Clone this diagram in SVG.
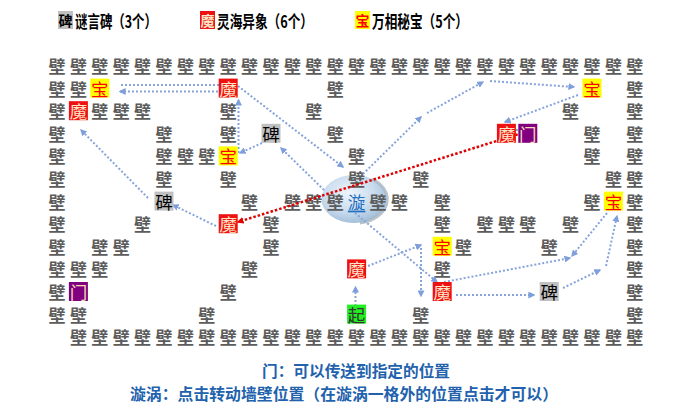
<svg xmlns="http://www.w3.org/2000/svg" width="698" height="408" viewBox="0 0 698 408">
<style>
.w text{font-family:"Noto Sans CJK SC","Noto Sans CJK JP",sans-serif;font-size:17px;font-weight:bold;fill:#5c5c5c;text-anchor:middle;dominant-baseline:central}
.t{font-family:"Noto Sans CJK SC","Noto Sans CJK JP",sans-serif;font-size:17.5px;text-anchor:middle;dominant-baseline:central}
.lt{font-family:"Noto Sans CJK SC","Noto Sans CJK JP",sans-serif;font-size:14px;font-weight:bold;text-anchor:middle;dominant-baseline:central}
.lg{font-family:"Noto Sans CJK SC","Noto Sans CJK JP",sans-serif;font-size:17px;font-weight:bold;fill:#000;dominant-baseline:central}
.bao rect{fill:#ffff00}.bao text{fill:#ff0000}
.mo rect{fill:#ee1111}.mo text{fill:#ffe6c8}
.bei rect{fill:#c0c0c0}.bei text{fill:#000}
.men rect{fill:#800080}.men text{fill:#f5dcb0}
.qi rect{fill:#22ee22}.qi text{fill:#333}
.c{fill:none;stroke:#86a4da;stroke-width:2;stroke-dasharray:2 2;marker-end:url(#ab)}
.r{fill:none;stroke:#e00000;stroke-width:2.5;stroke-dasharray:2.5 2;marker-end:url(#ar)}
.note{font-family:"Noto Sans CJK SC","Noto Sans CJK JP",sans-serif;font-size:15.5px;font-weight:bold;fill:#2262ad;text-anchor:middle;dominant-baseline:central}
</style>
<defs>
<marker id="ab" viewBox="0 0 10 10" refX="8" refY="5" markerWidth="7" markerHeight="7" markerUnits="userSpaceOnUse" orient="auto"><path d="M0,0 L10,5 L0,10 z" fill="#7f9fdc"/></marker>
<marker id="ar" viewBox="0 0 10 10" refX="8" refY="5" markerWidth="7" markerHeight="7" markerUnits="userSpaceOnUse" orient="auto"><path d="M0,0 L10,5 L0,10 z" fill="#e00000"/></marker>
<radialGradient id="sw" cx="0.42" cy="0.38" r="0.65">
<stop offset="0" stop-color="#eef5fb"/><stop offset="0.6" stop-color="#c9dcee"/><stop offset="1" stop-color="#9fbcd8"/>
</radialGradient>
</defs>
<rect width="698" height="408" fill="#fff"/>

<g id="legend">
<g class="bei"><rect x="58" y="11" width="15" height="18"/><text class="lt" x="65.5" y="20">碑</text></g>
<text class="lg" x="75" y="20" textLength="82" lengthAdjust="spacingAndGlyphs">谜言碑（3个）</text>
<g class="mo"><rect x="200" y="11" width="15" height="18"/><text class="lt" x="207.5" y="20">魔</text></g>
<text class="lg" x="217" y="20" textLength="96" lengthAdjust="spacingAndGlyphs">灵海异象（6个）</text>
<g class="bao"><rect x="355" y="11" width="15" height="18"/><text class="lt" x="362.5" y="20">宝</text></g>
<text class="lg" x="372" y="20" textLength="96" lengthAdjust="spacingAndGlyphs">万相秘宝（5个）</text>
</g>

<g id="swirl-bg">
<ellipse cx="354" cy="199" rx="32.5" ry="24" fill="url(#sw)"/>
<path d="M372,179 A32.5,24 0 0 1 360,223" fill="none" stroke="#a8b4bf" stroke-width="3" opacity="0.8"/>
</g>

<g id="walls" class="w">
<text x="57" y="65.5">壁</text><text x="78.4" y="65.5">壁</text><text x="99.8" y="65.5">壁</text><text x="121.2" y="65.5">壁</text><text x="142.6" y="65.5">壁</text><text x="164" y="65.5">壁</text><text x="185.4" y="65.5">壁</text><text x="206.8" y="65.5">壁</text><text x="228.2" y="65.5">壁</text><text x="249.6" y="65.5">壁</text><text x="271" y="65.5">壁</text><text x="292.4" y="65.5">壁</text><text x="313.8" y="65.5">壁</text><text x="335.2" y="65.5">壁</text><text x="356.6" y="65.5">壁</text><text x="378" y="65.5">壁</text><text x="399.4" y="65.5">壁</text><text x="420.8" y="65.5">壁</text><text x="442.2" y="65.5">壁</text><text x="463.6" y="65.5">壁</text><text x="485" y="65.5">壁</text><text x="506.4" y="65.5">壁</text><text x="527.8" y="65.5">壁</text><text x="549.2" y="65.5">壁</text><text x="570.6" y="65.5">壁</text><text x="592" y="65.5">壁</text><text x="613.4" y="65.5">壁</text><text x="634.8" y="65.5">壁</text>
<text x="57" y="88.1">壁</text><text x="78.4" y="88.1">壁</text><text x="335.2" y="88.1">壁</text><text x="634.8" y="88.1">壁</text>
<text x="57" y="110.7">壁</text><text x="99.8" y="110.7">壁</text><text x="121.2" y="110.7">壁</text><text x="142.6" y="110.7">壁</text><text x="228.2" y="110.7">壁</text><text x="313.8" y="110.7">壁</text><text x="570.6" y="110.7">壁</text><text x="634.8" y="110.7">壁</text>
<text x="57" y="133.3">壁</text><text x="164" y="133.3">壁</text><text x="228.2" y="133.3">壁</text><text x="335.2" y="133.3">壁</text><text x="592" y="133.3">壁</text><text x="634.8" y="133.3">壁</text>
<text x="57" y="155.9">壁</text><text x="164" y="155.9">壁</text><text x="185.4" y="155.9">壁</text><text x="206.8" y="155.9">壁</text><text x="356.6" y="155.9">壁</text><text x="592" y="155.9">壁</text><text x="634.8" y="155.9">壁</text>
<text x="57" y="178.5">壁</text><text x="164" y="178.5">壁</text><text x="228.2" y="178.5">壁</text><text x="356.6" y="178.5">壁</text><text x="420.8" y="178.5">壁</text><text x="613.4" y="178.5">壁</text><text x="634.8" y="178.5">壁</text>
<text x="57" y="201.1">壁</text><text x="249.6" y="201.1">壁</text><text x="292.4" y="201.1">壁</text><text x="313.8" y="201.1">壁</text><text x="335.2" y="201.1">壁</text><text x="378" y="201.1">壁</text><text x="399.4" y="201.1">壁</text><text x="442.2" y="201.1">壁</text><text x="592" y="201.1">壁</text><text x="634.8" y="201.1">壁</text>
<text x="57" y="223.7">壁</text><text x="142.6" y="223.7">壁</text><text x="271" y="223.7">壁</text><text x="442.2" y="223.7">壁</text><text x="485" y="223.7">壁</text><text x="506.4" y="223.7">壁</text><text x="527.8" y="223.7">壁</text><text x="570.6" y="223.7">壁</text><text x="634.8" y="223.7">壁</text>
<text x="57" y="246.3">壁</text><text x="99.8" y="246.3">壁</text><text x="121.2" y="246.3">壁</text><text x="271" y="246.3">壁</text><text x="463.6" y="246.3">壁</text><text x="549.2" y="246.3">壁</text><text x="634.8" y="246.3">壁</text>
<text x="57" y="268.9">壁</text><text x="78.4" y="268.9">壁</text><text x="99.8" y="268.9">壁</text><text x="249.6" y="268.9">壁</text><text x="442.2" y="268.9">壁</text><text x="634.8" y="268.9">壁</text>
<text x="57" y="291.5">壁</text><text x="228.2" y="291.5">壁</text><text x="634.8" y="291.5">壁</text>
<text x="57" y="314.1">壁</text><text x="78.4" y="314.1">壁</text><text x="206.8" y="314.1">壁</text><text x="420.8" y="314.1">壁</text><text x="634.8" y="314.1">壁</text>
<text x="78.4" y="336.7">壁</text><text x="99.8" y="336.7">壁</text><text x="121.2" y="336.7">壁</text><text x="142.6" y="336.7">壁</text><text x="164" y="336.7">壁</text><text x="185.4" y="336.7">壁</text><text x="206.8" y="336.7">壁</text><text x="228.2" y="336.7">壁</text><text x="249.6" y="336.7">壁</text><text x="271" y="336.7">壁</text><text x="292.4" y="336.7">壁</text><text x="313.8" y="336.7">壁</text><text x="335.2" y="336.7">壁</text><text x="356.6" y="336.7">壁</text><text x="378" y="336.7">壁</text><text x="399.4" y="336.7">壁</text><text x="420.8" y="336.7">壁</text><text x="442.2" y="336.7">壁</text><text x="463.6" y="336.7">壁</text><text x="485" y="336.7">壁</text><text x="506.4" y="336.7">壁</text><text x="527.8" y="336.7">壁</text><text x="549.2" y="336.7">壁</text><text x="570.6" y="336.7">壁</text><text x="592" y="336.7">壁</text><text x="613.4" y="336.7">壁</text><text x="634.8" y="336.7">壁</text>
</g>

<g id="connectors">
<path class="c" d="M121,85 L236,85"/>
<path class="c" d="M218,91.5 L120,91.5"/>
<path class="c" d="M238.5,153 L238.5,100"/>
<path class="c" d="M262,143 L240,153"/>
<path class="c" d="M324,190 L281,148"/>
<path class="c" d="M238,86 L343,167"/>
<path class="c" d="M216,226 L173,205"/>
<path class="c" d="M148,198 L81,130"/>
<path class="c" d="M363,174 L421,117"/>
<path class="c" d="M427,113 L483,82"/>
<path class="c" d="M490,81 L574,87"/>
<path class="c" d="M578,95 L505,122"/>
<path class="c" d="M512,129 L527,132"/>
<path class="c" d="M355.5,306 L355.5,287"/>
<path class="c" d="M368,266 L421,245"/>
<path class="c" d="M421,248 L421,296"/>
<path class="c" d="M355,213 L437,282"/>
<path class="c" d="M456,295 L534,295"/>
<path class="c" d="M444,282 L570,258"/>
<path class="c" d="M607,213 L572,256"/>
<path class="c" d="M563,288 L600,270"/>
<path class="c" d="M606,266 L617,216"/>
<path class="r" d="M522,133 L238,222"/>
</g>

<g id="bao1" class="bao"><rect x="90.3" y="78.6" width="19" height="19"/><text class="t" x="99.8" y="88.1">宝</text></g>
<g id="bao2" class="bao"><rect x="218.7" y="146.4" width="19" height="19"/><text class="t" x="228.2" y="155.9">宝</text></g>
<g id="bao3" class="bao"><rect x="582.5" y="78.6" width="19" height="19"/><text class="t" x="592" y="88.1">宝</text></g>
<g id="bao4" class="bao"><rect x="432.7" y="236.8" width="19" height="19"/><text class="t" x="442.2" y="246.3">宝</text></g>
<g id="bao5" class="bao"><rect x="603.9" y="191.6" width="19" height="19"/><text class="t" x="613.4" y="201.1">宝</text></g>

<g id="mo1" class="mo"><rect x="218.7" y="78.6" width="19" height="19"/><text class="t" x="228.2" y="88.1">魔</text></g>
<g id="mo2" class="mo"><rect x="68.9" y="101.2" width="19" height="19"/><text class="t" x="78.4" y="110.7">魔</text></g>
<g id="mo3" class="mo"><rect x="496.9" y="123.8" width="19" height="19"/><text class="t" x="506.4" y="133.3">魔</text></g>
<g id="mo4" class="mo"><rect x="218.7" y="214.2" width="19" height="19"/><text class="t" x="228.2" y="223.7">魔</text></g>
<g id="mo5" class="mo"><rect x="347.1" y="259.4" width="19" height="19"/><text class="t" x="356.6" y="268.9">魔</text></g>
<g id="mo6" class="mo"><rect x="432.7" y="282" width="19" height="19"/><text class="t" x="442.2" y="291.5">魔</text></g>

<g id="bei1" class="bei"><rect x="261.5" y="123.8" width="19" height="19"/><text class="t" x="271" y="133.3">碑</text></g>
<g id="bei2" class="bei"><rect x="154.5" y="191.6" width="19" height="19"/><text class="t" x="164" y="201.1">碑</text></g>
<g id="bei3" class="bei"><rect x="539.7" y="282" width="19" height="19"/><text class="t" x="549.2" y="291.5">碑</text></g>

<g id="men1" class="men"><rect x="518.3" y="123.8" width="19" height="19"/><text class="t" x="527.8" y="133.3">门</text></g>
<g id="men2" class="men"><rect x="68.9" y="282" width="19" height="19"/><text class="t" x="78.4" y="291.5">门</text></g>

<g id="qi" class="qi"><rect x="347.1" y="304.6" width="19" height="19"/><text class="t" x="356.6" y="314.1">起</text></g>

<g id="xuan"><text class="t" x="356.6" y="201.1" style="font-size:17.5px;fill:#1f6fc0;text-decoration:underline">漩</text></g>

<g id="notes">
<text class="note" x="356" y="370" textLength="188" lengthAdjust="spacingAndGlyphs">门：可以传送到指定的位置</text>
<text class="note" x="344" y="393" textLength="428" lengthAdjust="spacingAndGlyphs">漩涡：点击转动墙壁位置（在漩涡一格外的位置点击才可以）</text>
</g>
</svg>
